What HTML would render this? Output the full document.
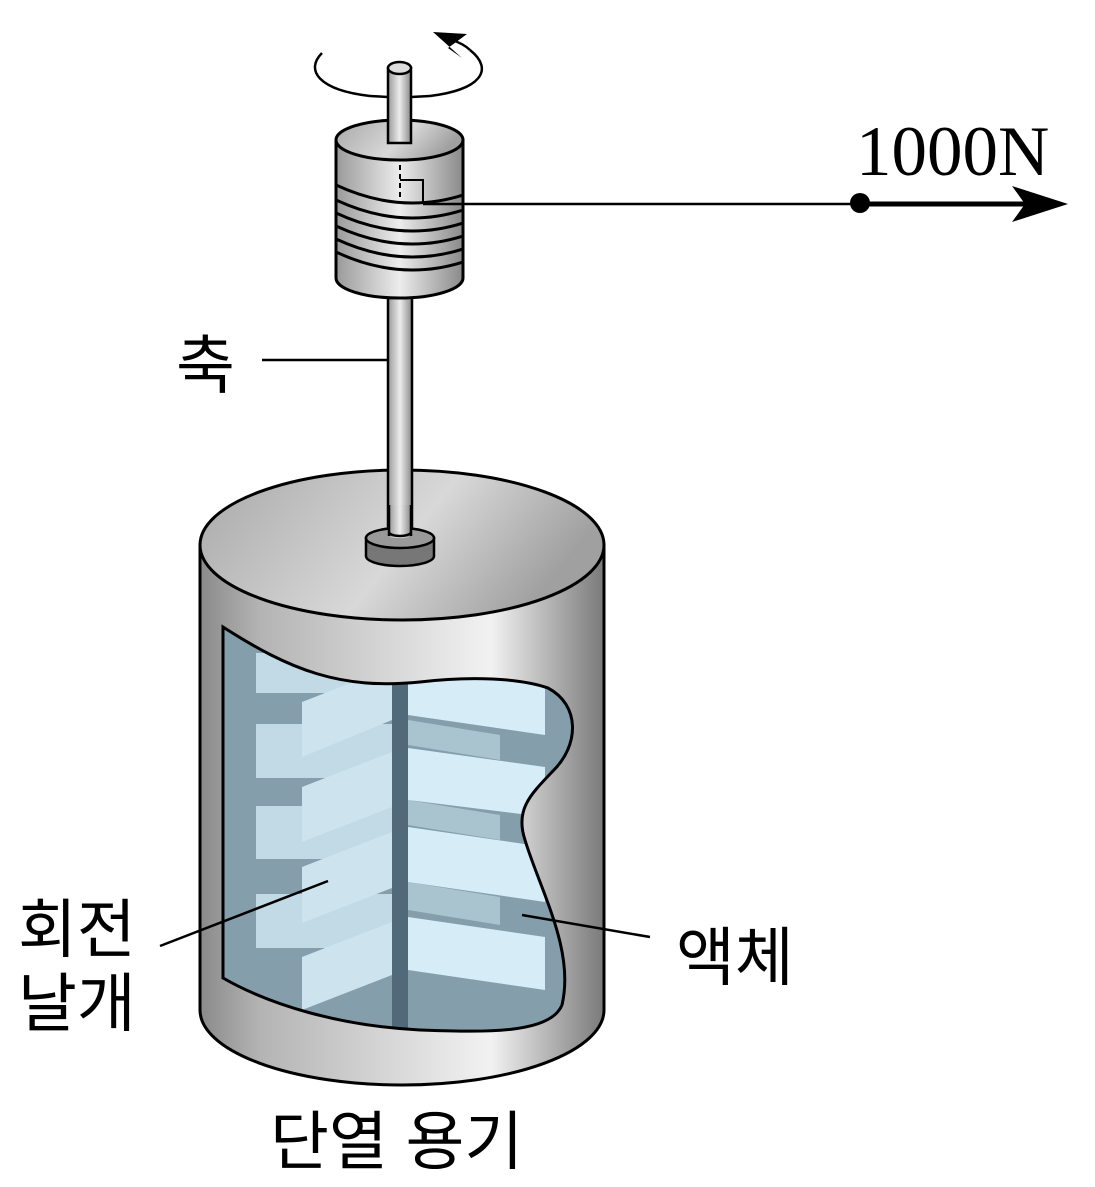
<!DOCTYPE html>
<html><head><meta charset="utf-8"><style>
html,body{margin:0;padding:0;background:#fff}
svg{display:block}
.k{font-family:"Liberation Sans","Noto Sans CJK KR",sans-serif;font-size:64px;fill:#000}
</style></head><body>
<svg width="1095" height="1187" viewBox="0 0 1095 1187" xmlns="http://www.w3.org/2000/svg">
<defs>
<linearGradient id="body" x1="0" x2="1" y1="0" y2="0">
<stop offset="0" stop-color="#8a8a8a"/><stop offset="0.15" stop-color="#b4b4b4"/><stop offset="0.72" stop-color="#f2f2f2"/><stop offset="1" stop-color="#7a7a7a"/>
</linearGradient>
<linearGradient id="lid" x1="0" x2="1" y1="0" y2="0.3">
<stop offset="0" stop-color="#a8a8a8"/><stop offset="0.6" stop-color="#d8d8d8"/><stop offset="1" stop-color="#a0a0a0"/>
</linearGradient>
<linearGradient id="rod" x1="0" x2="1">
<stop offset="0" stop-color="#9a9a9a"/><stop offset="0.5" stop-color="#ececec"/><stop offset="1" stop-color="#8a8a8a"/>
</linearGradient>
<clipPath id="win"><path d="M223,627 C290,670 340,690 420,682 C470,676 520,678 548,688 C580,705 580,745 552,772 C530,795 515,810 525,840 C540,890 575,950 562,1005 C550,1035 480,1032 420,1030 C340,1026 270,1005 223,978 Z"/></clipPath>
<clipPath id="pul"><path d="M336,140 L336,278 A63.5,20 0 0 0 463,278 L463,140 Z"/></clipPath>
</defs>

<path d="M200,545 L200,1010 A202,75 0 0 0 604,1010 L604,545 Z" fill="url(#body)" stroke="#000" stroke-width="3"/>
<ellipse cx="402" cy="545" rx="202" ry="75" fill="url(#lid)" stroke="#000" stroke-width="3"/>

<g clip-path="url(#win)">
<rect x="200" y="600" width="400" height="450" fill="#849eab"/>
<rect x="256" y="653" width="136" height="40" fill="#c2dae5"/>
<rect x="256" y="724" width="136" height="54" fill="#c2dae5"/>
<rect x="256" y="806" width="136" height="53" fill="#c2dae5"/>
<rect x="256" y="894" width="136" height="54" fill="#c2dae5"/>
<polygon points="408,720 500,735 500,760 408,745" fill="#a9c3cf"/>
<polygon points="408,800 500,815 500,840 408,825" fill="#a9c3cf"/>
<polygon points="408,882 500,897 500,925 408,910" fill="#a9c3cf"/>
<polygon points="302,702 392,667 392,720 302,757" fill="#cde4ee"/>
<polygon points="302,787 392,752 392,807 302,842" fill="#cde4ee"/>
<polygon points="302,867 392,832 392,888 302,923" fill="#cde4ee"/>
<polygon points="302,957 392,922 392,975 302,1010" fill="#cde4ee"/>
<polygon points="408,660 545,680 545,735 408,715" fill="#d6edf8"/>
<polygon points="408,748 545,767 545,817 408,800" fill="#d6edf8"/>
<polygon points="408,827 545,847 545,902 408,882" fill="#d6edf8"/>
<polygon points="408,917 545,937 545,990 408,970" fill="#d6edf8"/>
<rect x="392" y="680" width="16" height="360" fill="#52697a"/>
</g>
<path d="M223,627 C290,670 340,690 420,682 C470,676 520,678 548,688 C580,705 580,745 552,772 C530,795 515,810 525,840 C540,890 575,950 562,1005 C550,1035 480,1032 420,1030 C340,1026 270,1005 223,978 Z" fill="none" stroke="#000" stroke-width="3"/>

<rect x="388" y="295" width="24" height="245" fill="url(#rod)" stroke="#000" stroke-width="2.5"/>
<path d="M366,538 L366,556 A34,10 0 0 0 434,556 L434,538 Z" fill="#777" stroke="#000" stroke-width="2.5"/>
<ellipse cx="400" cy="538" rx="34" ry="10" fill="#999" stroke="#000" stroke-width="2.5"/>
<rect x="389" y="505" width="22" height="33" fill="url(#rod)" stroke="none"/>
<line x1="389" y1="505" x2="389" y2="536" stroke="#000" stroke-width="2.5"/>
<line x1="411" y1="505" x2="411" y2="536" stroke="#000" stroke-width="2.5"/>
<path d="M389,532 A11,4 0 0 0 411,532" fill="none" stroke="#000" stroke-width="2.5"/>

<path d="M336,140 L336,278 A63.5,20 0 0 0 463,278 L463,140 Z" fill="url(#rod)" stroke="#000" stroke-width="3"/>
<ellipse cx="399.5" cy="140" rx="63.5" ry="20" fill="url(#lid)" stroke="#000" stroke-width="3"/>
<g fill="none" stroke="#000" stroke-width="3" clip-path="url(#pul)">
<path d="M336,185 Q400,215 463,195"/>
<path d="M336,200 Q400,230 463,210"/>
<path d="M336,213 Q400,243 463,223"/>
<path d="M336,226 Q400,256 463,236"/>
<path d="M336,239 Q400,269 463,249"/>
<path d="M336,252 Q400,282 463,262"/>
</g>
<line x1="400" y1="165" x2="400" y2="203" stroke="#000" stroke-width="2" stroke-dasharray="5,4"/>
<polyline points="400,180 423,180 423,203" fill="none" stroke="#000" stroke-width="2"/>
<rect x="388" y="68" width="23" height="75" fill="url(#rod)" stroke="#000" stroke-width="2.5"/>
<ellipse cx="399.5" cy="68" rx="11.5" ry="6" fill="#ddd" stroke="#000" stroke-width="2.5"/>

<path d="M322,53 C305,70 318,90 370,96 M430,96 C480,90 495,70 470,50" fill="none" stroke="#000" stroke-width="2.5"/>
<path d="M370,96 L388,97" stroke="#000" stroke-width="2.5"/>
<path d="M411,97 L430,96" stroke="#000" stroke-width="2.5"/>
<path d="M470,50 C465,45 458,42 452,40" fill="none" stroke="#000" stroke-width="2.5"/>
<polygon points="433,32 467,34 448,48 462,58" fill="#000"/>

<line x1="423" y1="204" x2="1020" y2="204" stroke="#000" stroke-width="2.5"/>
<line x1="860" y1="204" x2="1030" y2="204" stroke="#000" stroke-width="5"/>
<circle cx="860" cy="203" r="10" fill="#000"/>
<polygon points="1068,204 1012,186 1025,204 1012,222" fill="#000"/>
<text x="856" y="175" font-family="Liberation Serif, serif" font-size="71">1000N</text>

<line x1="262" y1="360" x2="388" y2="360" stroke="#000" stroke-width="2.5"/>
<text x="176" y="388" class="k">축</text>
<line x1="160" y1="946" x2="328" y2="881" stroke="#000" stroke-width="2.5"/>
<text x="18" y="952" class="k">회전</text>
<text x="18" y="1026" class="k">날개</text>
<line x1="522" y1="915" x2="650" y2="937" stroke="#000" stroke-width="2.5"/>
<text x="676" y="980" class="k">액체</text>
<text x="270" y="1164" class="k">단열 용기</text>
</svg>
</body></html>
